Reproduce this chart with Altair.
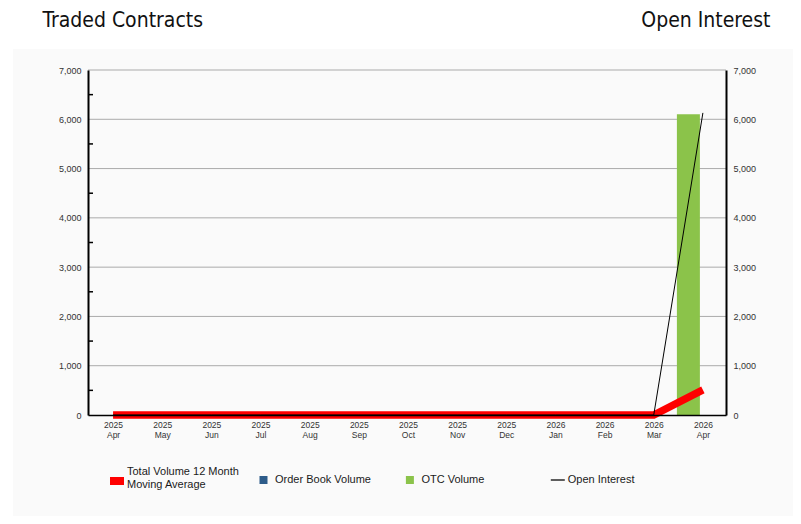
import json
import altair as alt
import pandas as pd

# ---- data ----
years = ["2025"] * 9 + ["2026"] * 4
months = ["Apr", "May", "Jun", "Jul", "Aug", "Sep", "Oct", "Nov", "Dec",
          "Jan", "Feb", "Mar", "Apr"]
otc_volume = [0, 0, 0, 0, 0, 0, 0, 0, 0, 0, 0, 0, 6100]
order_book_volume = [0, 0, 0, 0, 0, 0, 0, 0, 0, 0, 0, 0, 0]
moving_average = [0, 0, 0, 0, 0, 0, 0, 0, 0, 0, 0, 0, 508]
open_interest = [0, 0, 0, 0, 0, 0, 0, 0, 0, 0, 0, 0, 6130]

ma_name = "Total Volume 12 Month Moving Average"
ma_color = "#ff0000"
ma_symbol = "M-1,0.786H1V1.929H-1Z"

other_names = ["Order Book Volume", "OTC Volume", "Open Interest"]
other_colors = ["#2e5c8a", "#8bc34a", "#000000"]
other_shapes = ["M-0.786,-0.57H0.357V0.57H-0.786Z",
                "M-0.786,-0.57H0.357V0.57H-0.786Z",
                "M-1,-0.09H1V0.09H-1Z"]

major_ticks = [0, 1000, 2000, 3000, 4000, 5000, 6000, 7000]
grid_values = [1000, 2000, 3000, 4000, 5000, 6000, 7000]
minor_ticks = [500, 1500, 2500, 3500, 4500, 5500, 6500]

W, H = 638, 345

df = pd.DataFrame({
    "i": list(range(len(months))),
    "otc": otc_volume,
    "ob": order_book_volume,
    "ma": moving_average,
    "oi": open_interest,
})
grid_df = pd.DataFrame({"v": grid_values})
minor_df = pd.DataFrame({"v": minor_ticks})
legend_df = pd.DataFrame({"s": other_names, "k": [0, 0, 0]})
legend_ma_df = pd.DataFrame({"s": [ma_name], "k": [0]})
one = pd.DataFrame({"a": [0]})

label_pairs = [[y, m] for y, m in zip(years, months)]
x_label_expr = json.dumps(label_pairs) + "[datum.value]"

x_axis = alt.Axis(values=list(range(len(months))), labelExpr=x_label_expr,
                  grid=False, ticks=False, tickSize=0, domainColor="#000000",
                  domainWidth=1.5, labelFont="Liberation Sans", labelFontSize=8.5,
                  labelColor="#333333", labelPadding=5, labelLineHeight=10,
                  labelAngle=0, labelFlush=False, labelOverlap=False,
                  title=None, zindex=1)
x_scale = alt.Scale(domain=[-0.51, 12.47], nice=False, zero=False, padding=0)

def X(field):
    return alt.X(field + ":Q", scale=x_scale, axis=x_axis)

y_scale = alt.Scale(domain=[0, 7000], nice=False)
title_font = "DejaVu Sans Condensed"
left_axis = alt.Axis(orient="left", values=major_ticks, format=",.0f", grid=False,
                     ticks=False, tickSize=0, domainColor="#000000", domainWidth=2,
                     labelFont="Liberation Sans", labelFontSize=9,
                     labelColor="#333333", labelPadding=7,
                     title="Traded Contracts", titleAngle=0, titleAlign="left",
                     titleBaseline="middle", titleX=-46, titleY=-50,
                     titleFont=title_font, titleFontSize=21,
                     titleFontWeight="normal", titleColor="#111111", zindex=1)
right_axis = alt.Axis(orient="right", values=major_ticks, format=",.0f", grid=False,
                      ticks=False, tickSize=0, domainColor="#000000", domainWidth=2,
                      labelFont="Liberation Sans", labelFontSize=9,
                      labelColor="#333333", labelPadding=7,
                      title="Open Interest", titleAngle=0, titleAlign="right",
                      titleBaseline="middle", titleX=44, titleY=-50,
                      titleFont=title_font, titleFontSize=21,
                      titleFontWeight="normal", titleColor="#111111", zindex=1)

def YL(field):
    return alt.Y(field + ":Q", scale=y_scale, axis=left_axis)

# background panel
panel = alt.Chart(one).mark_rect(color="#fafafa").encode(
    x=alt.value(-75), x2=alt.value(705), y=alt.value(-21), y2=alt.value(446))

grid = alt.Chart(grid_df).mark_rule(color="#aaaaaa", strokeWidth=1).encode(
    y=YL("v"), x=alt.value(0), x2=alt.value(W))

minor = alt.Chart(minor_df).mark_rule(color="#000000", strokeWidth=1.5).encode(
    y=YL("v"), x=alt.value(0), x2=alt.value(5))

bars = alt.Chart(df).mark_bar(color="#8bc34a", size=23, xOffset=-14.5).encode(
    x=X("i"), y=YL("otc"))

ma_line = alt.Chart(df).mark_line(color=ma_color, strokeWidth=7.5,
                                  strokeCap="butt").encode(
    x=X("i"), y=YL("ma"))

legend_main = alt.Legend(title=None, orient="none", legendX=170, legendY=403,
                         columns=3, gridAlign="all", columnPadding=33.4,
                         symbolSize=196, symbolStrokeWidth=0, labelOffset=3,
                         labelFont="Liberation Sans", labelFontSize=11,
                         labelColor="#1a1a1a", padding=0)

legend_layer = alt.Chart(legend_df).transform_filter("datum.k > 1").mark_point(
    filled=True, opacity=1).encode(
    color=alt.Color("s:N", scale=alt.Scale(domain=other_names, range=other_colors),
                    legend=legend_main),
    shape=alt.Shape("s:N", scale=alt.Scale(domain=other_names, range=other_shapes),
                    legend=legend_main),
)

legend_ma = alt.Legend(title=None, orient="none", legendX=22, legendY=394.5,
                       symbolType=ma_symbol, symbolSize=196, symbolStrokeWidth=0,
                       labelOffset=3, labelFont="Liberation Sans", labelFontSize=11,
                       labelColor="#1a1a1a", padding=0,
                       labelExpr="['Total Volume 12 Month', 'Moving Average']")

legend_ma_layer = alt.Chart(legend_ma_df).transform_filter("datum.k > 1").mark_point(
    filled=True, opacity=1).encode(
    fill=alt.Fill("s:N", scale=alt.Scale(domain=[ma_name], range=[ma_color]),
                  legend=legend_ma),
)

left = alt.layer(panel, grid, bars, ma_line, minor, legend_layer, legend_ma_layer)

oi_line = alt.Chart(df).mark_line(color="#000000", strokeWidth=1).encode(
    x=X("i"), y=alt.Y("oi:Q", scale=y_scale, axis=right_axis))

chart = alt.layer(left, oi_line).resolve_scale(y="independent").properties(
    width=W, height=H,
    autosize=alt.AutoSizeParams(type="none"),
    padding={"left": 80, "top": 62, "right": 67, "bottom": 101},
    background="#ffffff",
).configure_view(strokeWidth=0)

chart.save("out.html", embed_options={"renderer": "svg", "actions": False})
